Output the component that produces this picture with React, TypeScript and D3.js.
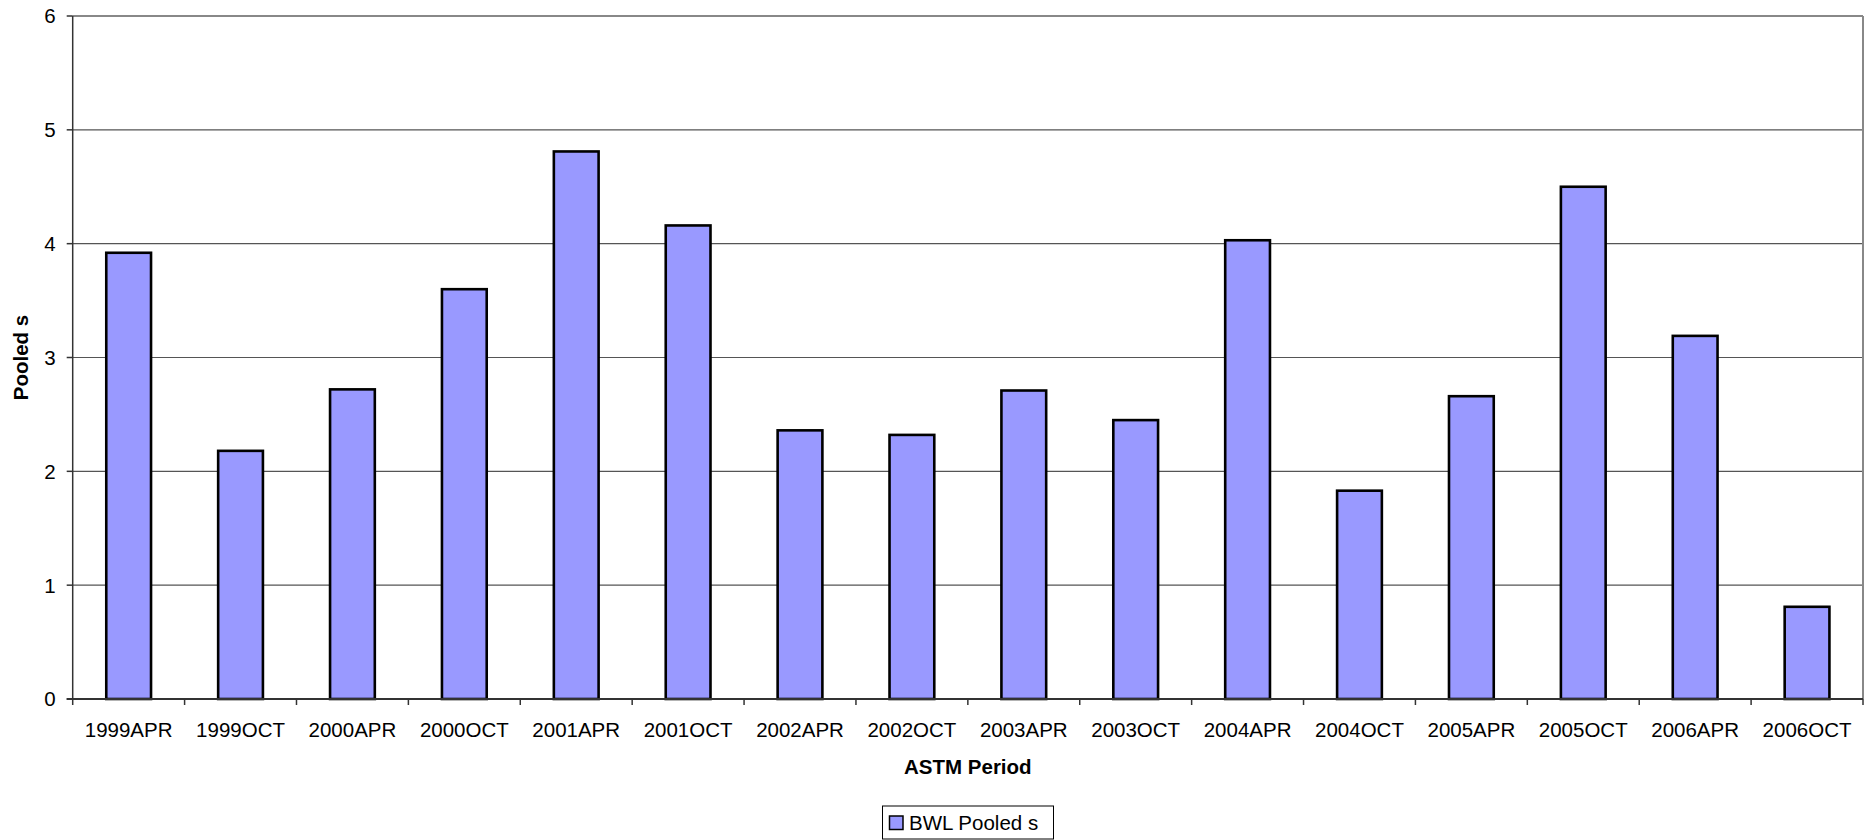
import React from "react";
import * as d3 from "d3";

const categories = [
  "1999APR", "1999OCT", "2000APR", "2000OCT", "2001APR", "2001OCT",
  "2002APR", "2002OCT", "2003APR", "2003OCT", "2004APR", "2004OCT",
  "2005APR", "2005OCT", "2006APR", "2006OCT",
];
const pooledS = [
  3.92, 2.18, 2.72, 3.6, 4.81, 4.16,
  2.36, 2.32, 2.71, 2.45, 4.03, 1.83,
  2.66, 4.5, 3.19, 0.81,
];
const yTicks = [0, 1, 2, 3, 4, 5, 6];
const seriesName = "BWL Pooled s";
const xTitle = "ASTM Period";
const yTitle = "Pooled s";

const W = 1871;
const H = 840;
const plot = { left: 72.7, right: 1863, top: 16, bottom: 699 };
const font = "'Liberation Sans', Arial, sans-serif";

export default function App() {
  const x = d3
    .scaleBand<string>()
    .domain(categories)
    .range([plot.left, plot.right])
    .paddingInner(0.6)
    .paddingOuter(0.3);
  const band = d3.scaleBand<string>().domain(categories).range([plot.left, plot.right]);
  const y = d3.scaleLinear().domain([0, 6]).range([plot.bottom, plot.top]);
  const cx = (plot.left + plot.right) / 2;
  const cy = (plot.top + plot.bottom) / 2;

  return (
    <svg
      width={W}
      height={H}
      style={{ position: "absolute", left: 0, top: 0, background: "#fff" }}
      fontFamily={font}
    >
      {/* horizontal gridlines */}
      {yTicks.map((t) => (
        <line
          key={"g" + t}
          x1={plot.left}
          x2={plot.right}
          y1={y(t)}
          y2={y(t)}
          stroke={t === 6 ? "#888" : "#555"}
          strokeWidth={t === 6 ? 2 : 1.2}
        />
      ))}
      {/* right border */}
      <line x1={plot.right} x2={plot.right} y1={plot.top} y2={plot.bottom} stroke="#888" strokeWidth={2} />

      {/* bars */}
      {categories.map((c, i) => (
        <rect
          key={c}
          x={x(c)}
          y={y(pooledS[i])}
          width={x.bandwidth()}
          height={y(0) - y(pooledS[i])}
          fill="#9999FF"
          stroke="#000"
          strokeWidth={2.6}
        />
      ))}

      {/* axes */}
      <line x1={plot.left} x2={plot.left} y1={plot.top} y2={plot.bottom + 6} stroke="#333" strokeWidth={1.5} />
      <line x1={plot.left - 6} x2={plot.right} y1={plot.bottom} y2={plot.bottom} stroke="#333" strokeWidth={2} />
      {yTicks.map((t) => (
        <g key={"yt" + t}>
          <line x1={plot.left - 6} x2={plot.left} y1={y(t)} y2={y(t)} stroke="#333" strokeWidth={1.5} />
          <text x={plot.left - 17} y={y(t)} dy="0.36em" textAnchor="end" fontSize={20.5} fill="#000">
            {t}
          </text>
        </g>
      ))}
      {categories.map((c) => (
        <g key={"xt" + c}>
          <line
            x1={(band(c) as number) + band.bandwidth()}
            x2={(band(c) as number) + band.bandwidth()}
            y1={plot.bottom}
            y2={plot.bottom + 6}
            stroke="#333"
            strokeWidth={1.5}
          />
          <text
            x={(band(c) as number) + band.bandwidth() / 2}
            y={737}
            textAnchor="middle"
            fontSize={20.5}
            fill="#000"
          >
            {c}
          </text>
        </g>
      ))}

      {/* axis titles */}
      <text x={cx} y={774} textAnchor="middle" fontSize={20.5} fontWeight="bold" fill="#000">
        {xTitle}
      </text>
      <text
        transform={`translate(28,${cy}) rotate(-90)`}
        textAnchor="middle"
        fontSize={20.5}
        fontWeight="bold"
        fill="#000"
      >
        {yTitle}
      </text>

      {/* legend */}
      <rect x={882.5} y={806} width={171} height={33} fill="#fff" stroke="#000" strokeWidth={1} />
      <rect x={889.5} y={816} width={13.5} height={13.5} fill="#9999FF" stroke="#000" strokeWidth={1.5} />
      <text x={909} y={829.5} fontSize={20.5} fill="#000">
        {seriesName}
      </text>
    </svg>
  );
}
